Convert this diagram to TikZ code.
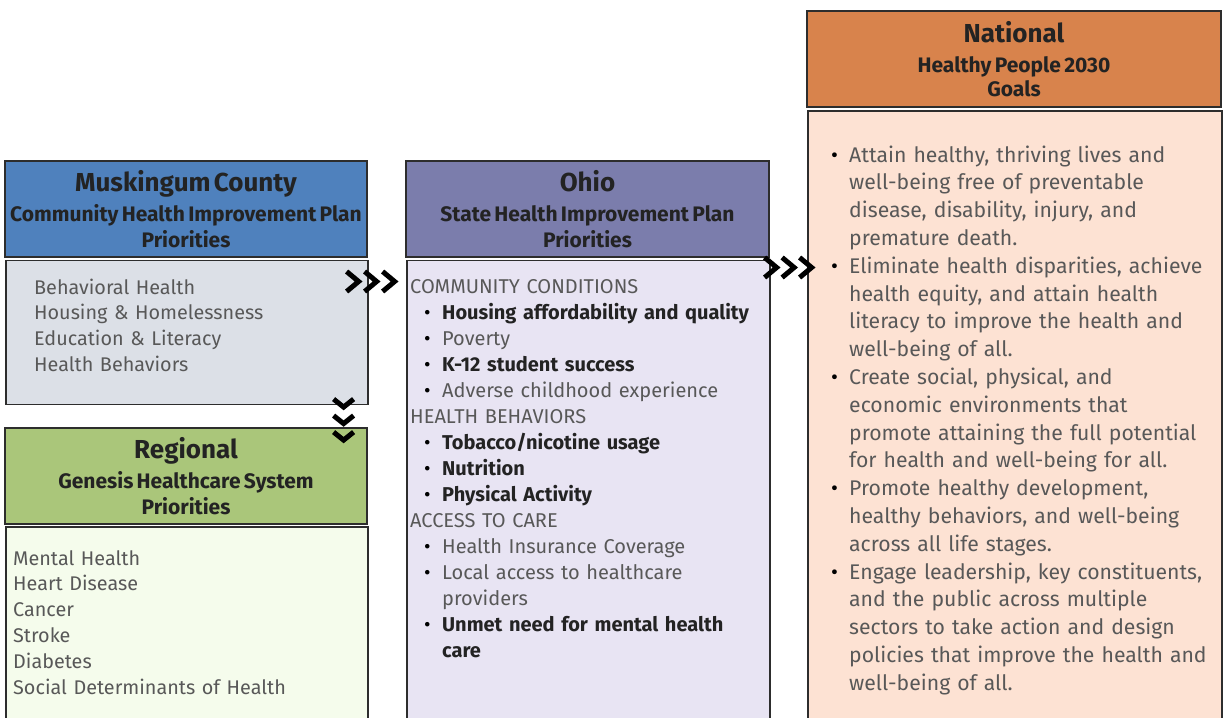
\documentclass[tikz,border=0pt]{standalone}
\usepackage{fontspec}
\setmainfont{Fira Sans}
\usetikzlibrary{calc}

\definecolor{countyblue}{RGB}{79,129,189}
\definecolor{countyfill}{RGB}{220,224,231}
\definecolor{regiongreen}{RGB}{170,198,122}
\definecolor{regionfill}{RGB}{245,252,236}
\definecolor{ohiopurple}{RGB}{123,125,172}
\definecolor{ohiofill}{RGB}{232,228,243}
\definecolor{natorange}{RGB}{216,131,76}
\definecolor{natfill}{RGB}{253,226,211}
\definecolor{framegray}{RGB}{45,45,45}
\definecolor{itemgray}{RGB}{88,88,88}
\definecolor{itemdark}{RGB}{35,35,35}

\newcommand{\bul}{\makebox[18pt][l]{\textcolor{black}{\textbullet}}}
\newcommand{\cont}{\hspace*{18pt}}
\newcommand{\hi}[1]{\textcolor{itemdark}{\bfseries #1}}
\newcommand{\headtitle}{\fontsize{26}{31}\selectfont\bfseries}
\newcommand{\headsub}{\fontsize{21}{25}\selectfont\bfseries}

\tikzset{
  headbox/.style={draw=framegray,line width=1.6pt,inner sep=0pt,text width=362pt,align=center,text=itemdark},
  bodybox/.style={draw=framegray,line width=1.6pt,inner sep=0pt,anchor=north west},
  listtext/.style={anchor=base west,inner sep=0pt,text width=400pt,align=left,text=itemgray,
    font=\fontsize{19.8}{25.8}\selectfont},
  chevron/.style={line width=5pt,line cap=butt,line join=miter}
}

\begin{document}
\begin{tikzpicture}[x=1pt,y=-1pt]
  \useasboundingbox (0,0) rectangle (1225,717);
  \clip (0,0) rectangle (1225,717);

  % Muskingum County
  \node[bodybox,fill=countyfill,minimum width=362pt,minimum height=144pt] (countybody) at (5,259.5) {};
  \node[headbox,fill=countyblue,minimum width=362pt,minimum height=96pt] (county) at (186,209)
    {\headtitle Muskingum County\\[5pt] \headsub Community Health Improvement Plan\\[3pt] Priorities};
  \node[listtext] (countylist) at (34,294)
    {Behavioral Health\\ Housing \& Homelessness\\ Education \& Literacy\\ Health Behaviors};

  % Regional
  \node[bodybox,fill=regionfill,minimum width=362pt,minimum height=220pt] (regionbody) at (5,526) {};
  \node[headbox,fill=regiongreen,minimum width=362pt,minimum height=96pt] (region) at (186,476)
    {\headtitle Regional\\[5pt] \headsub Genesis Healthcare System\\[3pt] Priorities};
  \node[listtext] (regionlist) at (13,565)
    {Mental Health\\ Heart Disease\\ Cancer\\ Stroke\\ Diabetes\\ Social Determinants of Health};

  % Ohio
  \node[bodybox,fill=ohiofill,minimum width=363pt,minimum height=480pt] (ohiobody) at (406,259.5) {};
  \node[headbox,fill=ohiopurple,minimum width=363pt,minimum height=96pt] (ohio) at (587.5,209)
    {\headtitle Ohio\\[5pt] \headsub State Health Improvement Plan\\[3pt] Priorities};
  \node[listtext,font=\fontsize{20}{26}\selectfont] (ohiolist) at (410,293)
    {COMMUNITY CONDITIONS\\
     \hspace*{14pt}\bul\hi{Housing affordability and quality}\\
     \hspace*{14pt}\bul Poverty\\
     \hspace*{14pt}\bul\hi{K-12 student success}\\
     \hspace*{14pt}\bul Adverse childhood experience\\
     HEALTH BEHAVIORS\\
     \hspace*{14pt}\bul\hi{Tobacco/nicotine usage}\\
     \hspace*{14pt}\bul\hi{Nutrition}\\
     \hspace*{14pt}\bul\hi{Physical Activity}\\
     ACCESS TO CARE\\
     \hspace*{14pt}\bul Health Insurance Coverage\\
     \hspace*{14pt}\bul Local access to healthcare\\
     \hspace*{14pt}\cont providers\\
     \hspace*{14pt}\bul\hi{Unmet need for mental health}\\
     \hspace*{14pt}\cont\hi{care}};

  % National
  \node[bodybox,fill=natfill,minimum width=414pt,minimum height=630pt] (natbody) at (807,110) {};
  \node[headbox,fill=natorange,minimum width=414pt,minimum height=96pt] (nat) at (1014,59)
    {\headtitle National\\[5pt] \headsub Healthy People 2030\\[3pt] Goals};
  \node[listtext,font=\fontsize{21.2}{27.8}\selectfont] (natlist) at (831,162)
    {\bul Attain healthy, thriving lives and\\
     \cont well-being free of preventable\\
     \cont disease, disability, injury, and\\
     \cont premature death.\\
     \bul Eliminate health disparities, achieve\\
     \cont health equity, and attain health\\
     \cont literacy to improve the health and\\
     \cont well-being of all.\\
     \bul Create social, physical, and\\
     \cont economic environments that\\
     \cont promote attaining the full potential\\
     \cont for health and well-being for all.\\
     \bul Promote healthy development,\\
     \cont healthy behaviors, and well-being\\
     \cont across all life stages.\\
     \bul Engage leadership, key constituents,\\
     \cont and the public across multiple\\
     \cont sectors to take action and design\\
     \cont policies that improve the health and\\
     \cont well-being of all.};

  % Chevrons between the boxes
  \coordinate (tocounty) at ($(countybody.north east)+(-10,22)$);
  \coordinate (toohio) at ($(ohiobody.north east)+(6,8)$);
  \coordinate (toregion) at ($(countybody.south east)+(-25,2)$);
  \foreach \dx in {0,18,36}
    \draw[chevron] ($(tocounty)+(\dx-12,-10)$) -- ($(tocounty)+(\dx,0)$) -- ($(tocounty)+(\dx-12,10)$);
  \foreach \dx in {0,17.5,35}
    \draw[chevron] ($(toohio)+(\dx-12,-10)$) -- ($(toohio)+(\dx,0)$) -- ($(toohio)+(\dx-12,10)$);
  \foreach \dy in {0,16.5,33}
    \draw[chevron] ($(toregion)+(-10,\dy-8)$) -- ($(toregion)+(0,\dy)$) -- ($(toregion)+(10,\dy-8)$);
\end{tikzpicture}
\end{document}
